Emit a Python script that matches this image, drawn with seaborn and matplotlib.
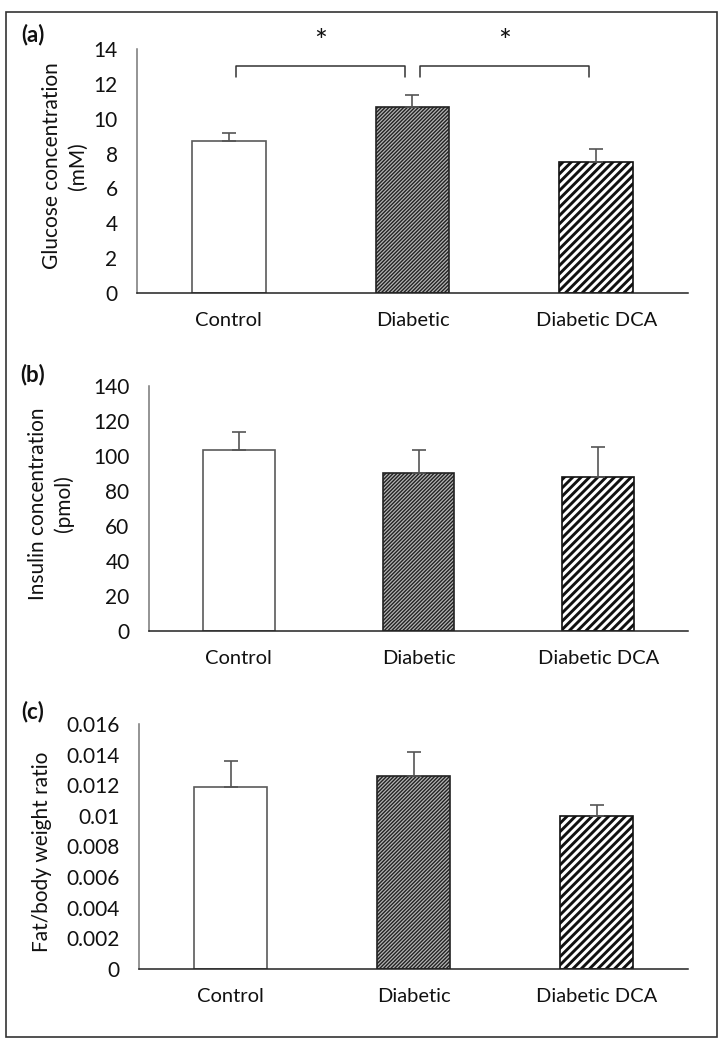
import numpy as np
import matplotlib
matplotlib.use("Agg")
import matplotlib.pyplot as plt
import seaborn as sns
from matplotlib.patches import Rectangle

sns.set_style("white")
plt.rcParams['font.family'] = ['Lato', 'DejaVu Sans']
plt.rcParams['hatch.linewidth'] = 1.0

# Data
groups = ["Control", "Diabetic", "Diabetic DCA"]

glucose = [8.7, 10.7, 7.5]
glucose_err = [0.5, 0.65, 0.75]

insulin = [103.5, 90.5, 88.0]
insulin_err = [10.0, 13.0, 17.0]

fat_ratio = [0.0119, 0.0126, 0.0100]
fat_ratio_err = [0.0017, 0.0016, 0.0007]

sig_pairs = [(0, 1), (1, 2)]
sig_bracket_y = 13.0
sig_tip_y = 12.4
sig_star_y = 14.4

panels = [
    dict(tag="(a)", vals=glucose, err=glucose_err, ymax=14, step=2,
         ylabel="Glucose concentration\n(mM)", fmt=lambda v: f"{v:g}",
         box=(137, 688, 49, 293), lab=(-0.089, 0.52), tagy=35),
    dict(tag="(b)", vals=insulin, err=insulin_err, ymax=140, step=20,
         ylabel="Insulin concentration\n(pmol)", fmt=lambda v: f"{v:g}",
         box=(149, 688, 386, 631), lab=(-0.139, 0.52), tagy=375),
    dict(tag="(c)", vals=fat_ratio, err=fat_ratio_err, ymax=0.016, step=0.002,
         ylabel="Fat/body weight ratio", fmt=lambda v: f"{round(v, 3):g}",
         box=(139, 688, 724, 969), lab=(-0.158, 0.48), tagy=712),
]

W, H = 726, 1048
fig = plt.figure(figsize=(W / 100, H / 100), dpi=100)

faces = ["white", "#b4b4b4", "white"]
edges = ["#5a5a5a", "#222222", "#111111"]
hatches = [None, "/////////", "////"]
hatch_lw = [1.0, 1.0, 2.1]

for p in panels:
    x0, x1, y0, y1 = p["box"]
    ax = fig.add_axes([x0 / W, 1 - y1 / H, (x1 - x0) / W, (y1 - y0) / H])
    sns.barplot(x=groups, y=p["vals"], ax=ax, width=0.4, color="white",
                errorbar=None, linewidth=1.2)
    for i, bar in enumerate(ax.patches):
        bar.set_facecolor(faces[i])
        bar.set_edgecolor(edges[i])
        if hatches[i]:
            bar.set_hatch(hatches[i])
            if hasattr(bar, "set_hatch_linewidth"):
                bar.set_hatch_linewidth(hatch_lw[i])
    xs = np.arange(len(groups))
    ax.errorbar(xs, p["vals"], yerr=[np.zeros(len(xs)), p["err"]], fmt="none",
                ecolor="#555555", elinewidth=1.2, capsize=5, capthick=1.2)

    ax.set_xlim(-0.5, 2.5)
    ax.set_ylim(0, p["ymax"])
    yt = np.arange(0, p["ymax"] + p["step"] / 2, p["step"])
    ax.set_yticks(yt)
    ax.set_yticklabels([p["fmt"](v) for v in yt])
    ax.set_xticks(xs)
    ax.set_xticks([-0.5, 0.5, 1.5, 2.5], minor=True)
    ax.tick_params(axis="x", which="major", length=0, pad=14, labelsize=14.5, colors="#111111")
    ax.tick_params(axis="x", which="minor", length=5, width=1, color="#333333", direction="out")
    ax.tick_params(axis="y", length=5, width=1, color="#777777", direction="out",
                   pad=9, labelsize=15, labelcolor="#111111")
    ax.set_xlabel("")
    ax.set_ylabel(p["ylabel"], fontsize=15, color="#111111", linespacing=1.35)
    ax.yaxis.set_label_coords(*p["lab"])
    for s in ["top", "right"]:
        ax.spines[s].set_visible(False)
    ax.spines["left"].set_color("#777777")
    ax.spines["bottom"].set_color("#222222")
    ax.spines["left"].set_linewidth(1.1)
    ax.spines["bottom"].set_linewidth(1.1)
    fig.text(33 / W, 1 - p["tagy"] / H, p["tag"], fontsize=16, fontweight="bold",
             ha="center", va="center", color="#111111")

    if p["tag"] == "(a)":
        for a, b in sig_pairs:
            xl, xr = a + 0.04, b - 0.04
            ax.plot([xl, xl, xr, xr], [sig_tip_y, sig_bracket_y, sig_bracket_y, sig_tip_y],
                    color="#333333", lw=1.1, clip_on=False)
            ax.text((a + b) / 2, sig_star_y, "*", ha="center", va="center",
                    fontsize=22, color="#111111", clip_on=False)

fig.patches.append(Rectangle((6 / W, 1 - 1037 / H), 711 / W, 1025 / H,
                             transform=fig.transFigure, fill=False,
                             edgecolor="#333333", lw=1.2))

fig.savefig("out.png", dpi=100)
